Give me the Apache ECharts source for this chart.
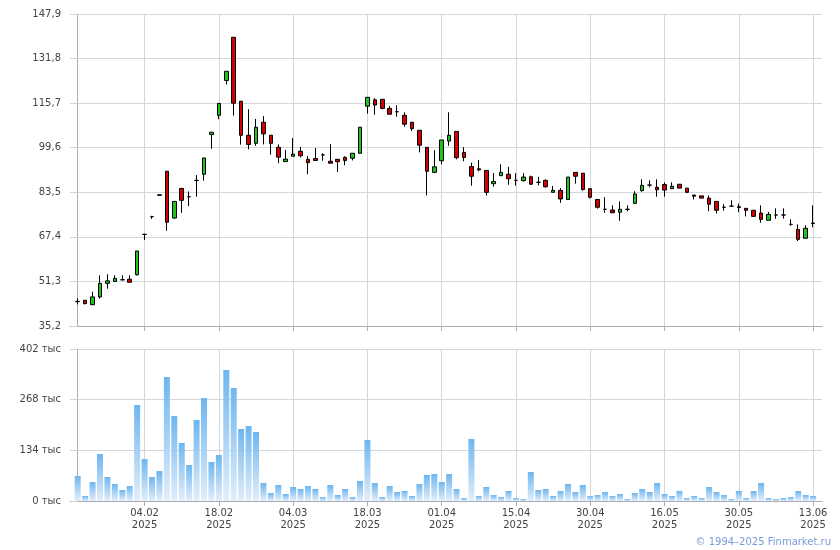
<!DOCTYPE html>
<html>
<head>
<meta charset="utf-8">
<script src="https://cdn.jsdelivr.net/npm/echarts@6/dist/echarts.min.js"></script>
<style>
html,body{margin:0;padding:0;background:#fff;}
#chart{width:840px;height:550px;}
</style>
</head>
<body>
<div id="chart"></div>
<script>
// ---- DATA ----
const dates = [
 '22.01.2025','23.01.2025','24.01.2025','27.01.2025','28.01.2025','29.01.2025','30.01.2025','31.01.2025','03.02.2025','04.02.2025',
 '05.02.2025','06.02.2025','07.02.2025','10.02.2025','11.02.2025','12.02.2025','13.02.2025','14.02.2025','17.02.2025','18.02.2025',
 '19.02.2025','20.02.2025','21.02.2025','24.02.2025','25.02.2025','26.02.2025','27.02.2025','28.02.2025','03.03.2025','04.03.2025',
 '05.03.2025','06.03.2025','07.03.2025','10.03.2025','11.03.2025','12.03.2025','13.03.2025','14.03.2025','17.03.2025','18.03.2025',
 '19.03.2025','20.03.2025','21.03.2025','24.03.2025','25.03.2025','26.03.2025','27.03.2025','28.03.2025','31.03.2025','01.04.2025',
 '02.04.2025','03.04.2025','04.04.2025','07.04.2025','08.04.2025','09.04.2025','10.04.2025','11.04.2025','14.04.2025','15.04.2025',
 '16.04.2025','17.04.2025','18.04.2025','21.04.2025','22.04.2025','23.04.2025','24.04.2025','25.04.2025','28.04.2025','30.04.2025',
 '02.05.2025','05.05.2025','06.05.2025','07.05.2025','08.05.2025','12.05.2025','13.05.2025','14.05.2025','15.05.2025','16.05.2025',
 '19.05.2025','20.05.2025','21.05.2025','22.05.2025','23.05.2025','26.05.2025','27.05.2025','28.05.2025','29.05.2025','30.05.2025',
 '02.06.2025','03.06.2025','04.06.2025','05.06.2025','06.06.2025','09.06.2025','10.06.2025','11.06.2025','12.06.2025','13.06.2025'
];
const openP = [
 44.0,44.5,42.9,45.7,50.6,51.3,51.9,52.1,53.7,68.3,
 74.7,82.6,91.1,74.2,84.9,81.9,87.8,90.0,104.4,111.3,
 123.9,139.5,116.4,104.1,101.2,108.8,104.1,99.75,94.6,96.5,
 98.3,95.4,95.7,97.0,94.7,95.4,96.1,95.8,97.6,114.6,
 116.9,117.1,113.8,112.6,111.3,108.8,105.9,99.75,90.7,94.9,
 102.0,105.5,97.9,92.8,92.0,91.4,86.6,89.5,90.0,87.8,
 87.7,89.1,87.1,87.8,83.5,84.2,80.9,90.7,90.4,84.8,
 80.9,77.35,77.1,76.3,77.35,79.5,84.1,86.1,85.3,86.3,
 84.8,86.4,85.0,82.5,82.2,81.4,80.2,78.1,78.5,78.3,
 77.7,77.0,76.0,73.4,75.3,75.3,71.9,70.1,66.9,72.4
];
const closeP = [
 44.1,43.3,45.7,50.6,51.5,52.4,51.9,51.0,62.3,68.3,
 74.7,82.4,72.7,80.2,80.6,81.9,87.8,95.9,105.2,115.6,
 127.2,115.7,104.1,100.8,107.0,104.6,101.2,96.2,95.5,97.3,
 96.7,94.2,95.0,97.0,94.0,94.55,95.0,97.6,107.0,117.8,
 115.0,113.8,111.7,112.6,108.1,106.5,100.5,91.1,92.7,102.4,
 104.1,96.0,96.1,89.3,91.6,83.5,87.4,90.7,88.4,87.8,
 89.0,86.4,87.1,85.5,84.2,81.1,89.0,89.3,84.5,81.7,
 78.1,77.35,76.1,77.35,77.35,82.9,86.0,86.1,84.4,84.3,
 85.7,85.0,83.5,82.1,81.4,79.2,77.0,78.1,78.5,78.0,
 77.0,74.8,73.7,75.5,75.3,75.3,71.9,66.5,70.5,72.2
];
const lowP = [
 43.0,43.0,42.7,45.1,48.7,51.3,51.7,51.0,53.5,66.3,
 73.9,82.4,69.6,73.96,76.1,78.5,81.9,87.7,99.2,109.9,
 122.4,111.2,100.7,99.0,100.3,100.8,97.1,94.0,94.6,96.5,
 96.1,90.0,95.0,94.9,94.0,90.8,93.25,95.0,97.6,111.9,
 111.5,113.5,111.7,110.8,107.2,105.7,97.9,82.4,90.4,93.6,
 100.3,95.4,94.7,85.9,91.1,82.3,85.5,89.5,86.2,85.9,
 87.4,86.3,86.0,85.2,83.5,79.7,80.9,86.6,84.1,81.3,
 77.6,76.1,76.1,73.2,76.6,79.5,83.7,85.3,81.9,81.9,
 84.8,85.0,83.2,80.9,81.4,76.6,75.8,76.85,78.3,76.3,
 74.8,74.6,72.5,73.4,73.96,74.0,71.4,65.9,66.9,70.85
];
const highP = [
 45.2,44.5,47.6,53.5,53.9,53.5,53.5,53.5,62.3,68.5,
 75.0,82.6,91.1,80.2,84.9,83.8,89.7,95.9,105.2,115.6,
 127.2,139.5,116.4,113.5,110.0,111.0,104.1,100.8,98.8,103.1,
 99.9,96.6,99.5,97.6,100.9,95.4,96.5,97.6,107.0,117.8,
 117.5,117.1,114.7,114.9,112.4,108.8,105.9,99.75,98.7,102.4,
 112.4,105.5,99.8,94.2,95.2,91.4,90.4,93.6,92.7,90.4,
 90.4,89.5,89.1,88.2,85.8,85.0,89.0,90.7,90.4,84.8,
 80.9,81.7,78.8,80.2,78.8,83.9,88.2,87.8,88.2,87.1,
 87.1,86.4,85.0,82.5,82.2,82.4,80.2,79.2,80.6,79.4,
 77.7,77.0,78.8,76.4,77.7,77.7,73.7,71.9,71.6,78.8
];
const volumeK = [
 66.1,13.2,50.3,124.3,63.5,45.0,29.1,39.7,253.9,111.1,
 63.5,79.3,327.9,224.8,153.4,95.2,214.2,272.4,103.1,121.7,
 346.5,298.9,190.4,198.4,182.5,47.6,21.2,42.3,18.5,37.0,
 31.7,39.7,31.7,10.6,42.3,15.9,31.7,10.6,52.9,161.3,
 47.6,10.6,39.7,23.8,26.4,13.2,45.0,68.8,71.4,50.3,
 71.4,31.7,7.9,164.0,13.2,37.0,15.9,10.6,26.4,7.9,
 5.3,76.7,29.1,31.7,13.2,26.4,45.0,23.8,42.3,13.2,
 15.9,23.8,13.2,18.5,5.3,21.2,31.7,23.8,47.6,18.5,
 13.2,26.4,7.9,13.2,7.9,37.0,23.8,15.9,5.3,26.4,
 7.9,26.4,47.6,7.9,5.3,7.9,10.6,26.4,15.9,13.2
];
const labelIdx = [9,19,29,39,49,59,69,79,89,99];
const priceTicks = [35.2,51.3,67.4,83.5,99.6,115.7,131.8,147.9];
const priceTickLabels = ['35,2','51,3','67,4','83,5','99,6','115,7','131,8','147,9'];
const volTicks = [0,134,268,402];
const volTickLabels = ['0 тыс','134 тыс','268 тыс','402 тыс'];

// ---- STYLE ----
const gridColor = '#d3d7dc';
const axisColor = '#a9adb5';
const textColor = '#444';
const font = 'DejaVu Sans';

const chart = echarts.init(document.getElementById('chart'), null, {renderer: 'canvas'});

const candleData = dates.map((d, i) => [i, openP[i], closeP[i], lowP[i], highP[i]]);
const volData = dates.map((d, i) => [i, volumeK[i]]);

function xAxisCfg(gi, showLabels) {
  return {
    type: 'value', gridIndex: gi, min: -1.04, max: 100.2,
    axisLine: {show: true, onZero: false, lineStyle: {color: axisColor, width: 1}},
    axisTick: {show: true, customValues: labelIdx, length: 5, lineStyle: {color: axisColor}},
    axisLabel: {
      show: showLabels, customValues: labelIdx, margin: 6,
      color: textColor, fontFamily: font, fontSize: 10, lineHeight: 12,
      formatter: v => { const d = dates[Math.round(v)]; return d ? d.slice(0, 5) + '\n' + d.slice(6) : ''; }
    },
    splitLine: {show: true, lineStyle: {color: gridColor, width: 1}}
  };
}

const option = {
  animation: false,
  backgroundColor: '#fff',
  grid: [
    {left: 70, top: 14, width: 752, height: 312},
    {left: 70, top: 349, width: 752, height: 152}
  ],
  xAxis: [xAxisCfg(0, false), xAxisCfg(1, true)],
  yAxis: [
    {
      type: 'value', gridIndex: 0, min: 35.2, max: 147.9,
      axisLine: {show: true, lineStyle: {color: axisColor}},
      axisTick: {show: true, customValues: priceTicks, length: 7, lineStyle: {color: gridColor}},
      axisLabel: {
        customValues: priceTicks, margin: 9, color: textColor, fontFamily: font, fontSize: 10,
        formatter: v => { const k = priceTicks.findIndex(t => Math.abs(t - v) < 1e-6); return k >= 0 ? priceTickLabels[k] : ''; }
      },
      splitLine: {show: true, lineStyle: {color: gridColor}}
    },
    {
      type: 'value', gridIndex: 1, min: 0, max: 402, interval: 134,
      axisLine: {show: true, lineStyle: {color: axisColor}},
      axisTick: {show: true, length: 7, lineStyle: {color: gridColor}},
      axisLabel: {
        margin: 9, color: textColor, fontFamily: font, fontSize: 10,
        formatter: v => { const k = volTicks.indexOf(Math.round(v)); return k >= 0 ? volTickLabels[k] : ''; }
      },
      splitLine: {show: true, lineStyle: {color: gridColor}}
    }
  ],
  series: [
    {
      type: 'candlestick', xAxisIndex: 0, yAxisIndex: 0,
      data: candleData, encode: {x: 0, y: [1, 2, 3, 4]},
      barWidth: 4,
      itemStyle: {
        color: '#1fc21f', color0: '#d40000',
        borderColor: '#000', borderColor0: '#000', borderColorDoji: '#000', borderWidth: 1
      }
    },
    {
      type: 'bar', xAxisIndex: 1, yAxisIndex: 1,
      data: volData, barWidth: 6,
      itemStyle: {
        color: new echarts.graphic.LinearGradient(0, 0, 0, 1, [
          {offset: 0, color: '#6db6f0'},
          {offset: 1, color: '#e3eefa'}
        ])
      }
    }
  ],
  graphic: [
    {
      type: 'text', right: 9, top: 537,
      style: {text: '© 1994–2025 Finmarket.ru', fill: '#7b9ad9', font: '10px "DejaVu Sans"'}
    }
  ]
};
chart.setOption(option);
</script>
</body>
</html>
